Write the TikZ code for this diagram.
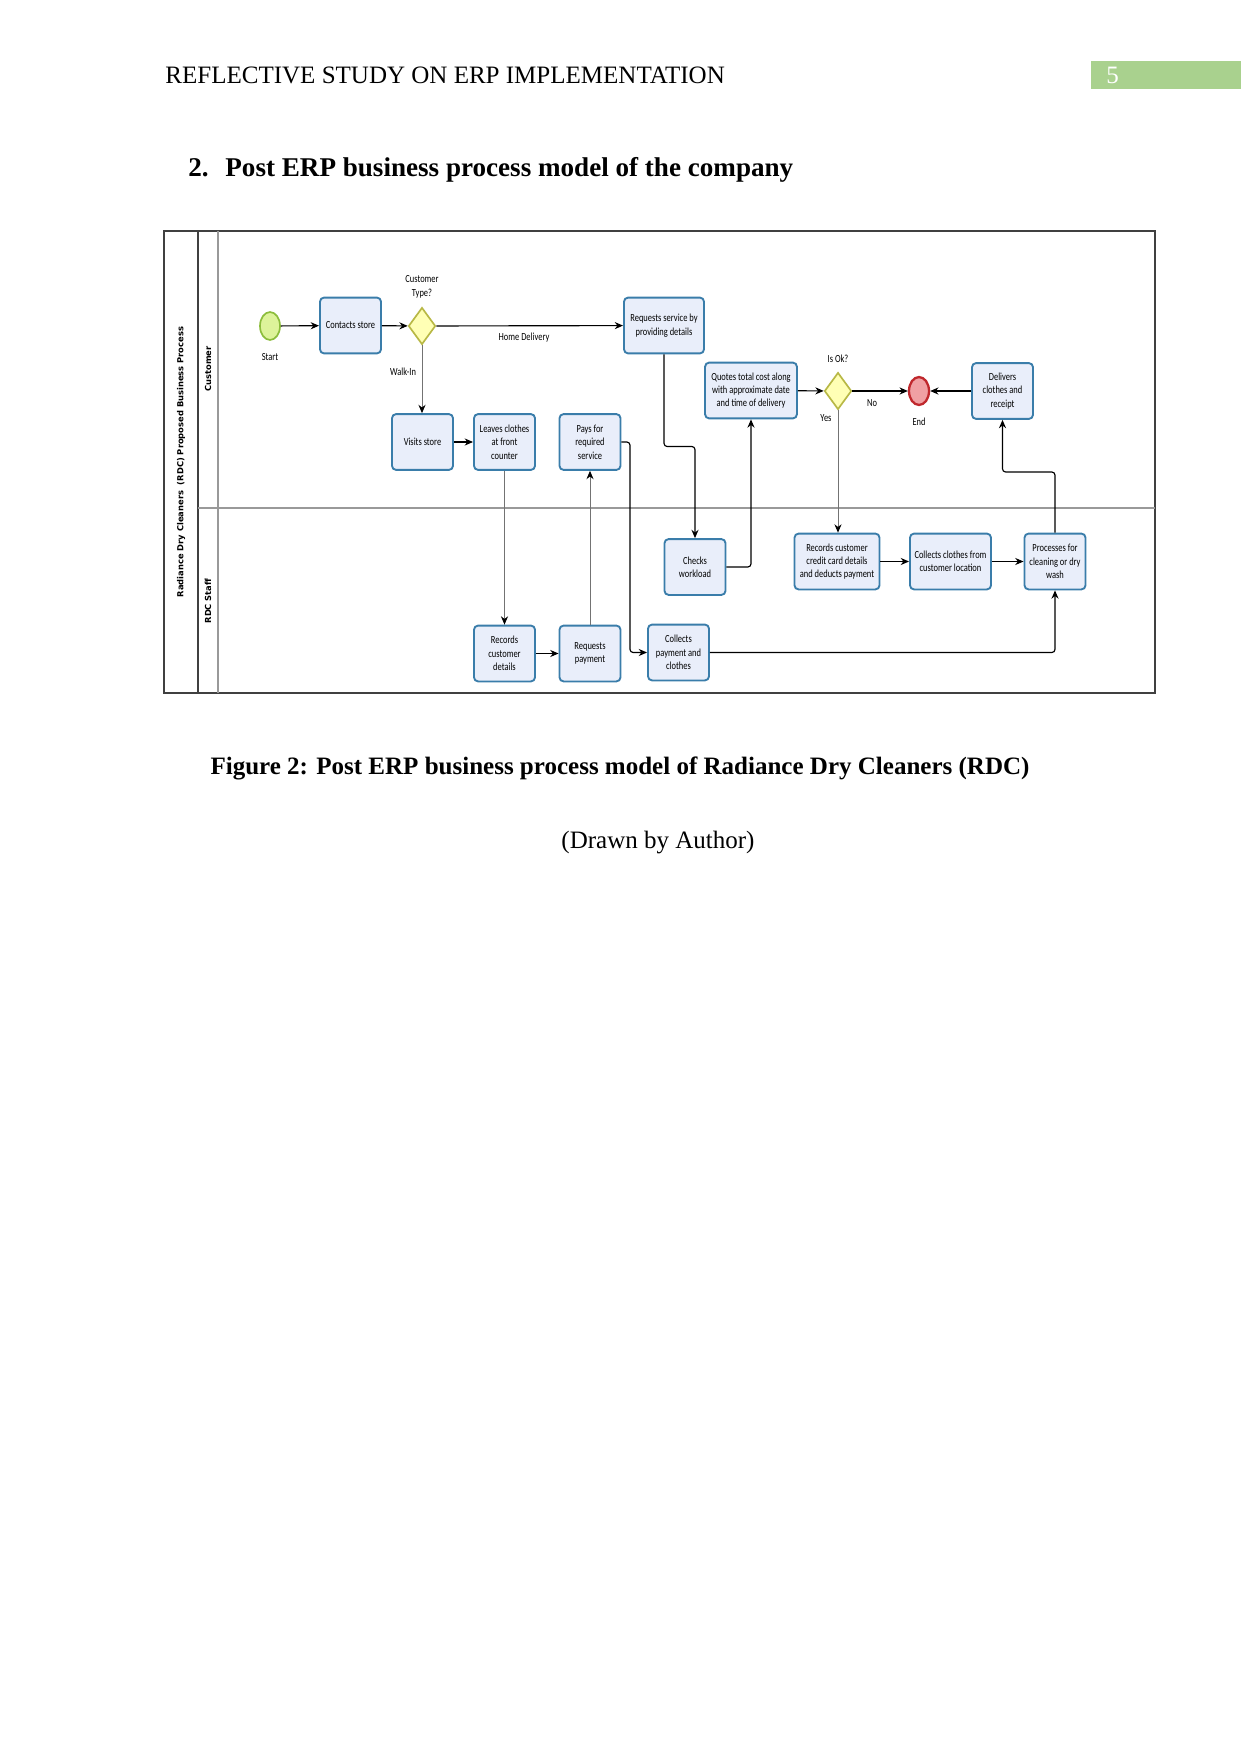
\documentclass[tikz,border=0pt]{standalone}
\usepackage{fontspec}
\setmainfont{Liberation Serif}
\newfontfamily\boxfont[FakeStretch=0.78]{Carlito}
\newfontfamily\lanefont{DejaVu Sans}
\usepackage{xcolor}
\usetikzlibrary{shapes.geometric, arrows.meta, positioning, calc}
\definecolor{taskfill}{HTML}{E9EEFA}
\definecolor{taskline}{HTML}{3A7DAA}
\definecolor{gatefill}{HTML}{FFFFB5}
\definecolor{gateline}{HTML}{B8B845}
\definecolor{startfill}{HTML}{DDF39A}
\definecolor{startline}{HTML}{8CBD3C}
\definecolor{endfill}{HTML}{F0A0A3}
\definecolor{endline}{HTML}{C0282D}
\definecolor{pagegreen}{HTML}{A9D18E}
\tikzset{
  task/.style={rectangle, rounded corners=2pt, draw=taskline, line width=0.9pt, fill=taskfill,
               align=center, minimum width=29.3pt, minimum height=26.8pt, inner sep=1pt,
               font=\boxfont\fontsize{5.2}{6.4}\selectfont},
  gateway/.style={diamond, draw=gateline, line width=0.8pt, fill=gatefill,
                  minimum width=13pt, minimum height=17.7pt, inner sep=0pt},
  startev/.style={ellipse, draw=startline, line width=0.8pt, fill=startfill,
                  minimum width=9.6pt, minimum height=13.4pt, inner sep=0pt},
  endev/.style={ellipse, draw=endline, line width=1.1pt, fill=endfill,
                minimum width=9.6pt, minimum height=13.4pt, inner sep=0pt},
  note/.style={font=\boxfont\fontsize{5.2}{6.4}\selectfont, align=center, inner sep=0pt},
  lanetxt/.style={font=\lanefont\bfseries\fontsize{4}{5}\selectfont, rotate=90, inner sep=0pt},
  pagetxt/.style={font=\fontsize{12}{14.4}\selectfont, inner sep=0pt},
  flow/.style={-{Stealth[length=4pt,width=3.4pt]}, line width=0.55pt, rounded corners=1.5pt},
  thinflow/.style={-{Stealth[length=4pt,width=3.4pt,color=black]}, draw=black!55, line width=0.4pt},
}
\begin{document}
\begin{tikzpicture}[x=0.4797pt, y=-0.4797pt]
  \path[fill=white, use as bounding box] (0,0) rectangle (1241,1754);

  % page text
  \node[pagetxt, anchor=base west] (hdr) at (165,84) {REFLECTIVE STUDY ON ERP IMPLEMENTATION};
  \node[fill=pagegreen, anchor=north west, minimum width=72pt, minimum height=13pt, inner sep=0pt] (pgbox) at (1091,61) {};
  \node[pagetxt, anchor=base west, text=white] (pgnum) at (1106,84) {5};
  \node[pagetxt, anchor=base west, font=\bfseries\fontsize{13}{15.6}\selectfont] (secnum) at (188,176) {2.};
  \node[pagetxt, anchor=base west, font=\bfseries\fontsize{13}{15.6}\selectfont] (sectitle) at (225,176) {Post ERP business process model of the company};

  % pool and lanes
  \draw[black!75, line width=0.6pt] (164,231) rectangle (1155,693);
  \draw[black!75, line width=0.6pt] (198,231) -- (198,693);
  \draw[black!40, line width=0.5pt] (218,231) -- (218,693);
  \draw[black!40, line width=0.5pt] (198,508) -- (1155,508);
  \node[lanetxt] (pool) at (181,462) {Radiance Dry Cleaners~~(RDC) Proposed Business Process};
  \node[lanetxt] (custlane) at (208,369) {Customer};
  \node[lanetxt] (stafflane) at (208,601) {RDC Staff};

  % customer lane
  \node[startev] (start) at (270,326) {};
  \node[note] (startlbl) at (270,357) {Start};
  \node[task] (contact) at (350.5,325.5) {Contacts store};
  \node[gateway] (ctype) at (422,326) {};
  \node[note] (ctypelbl) at (422,287) {Customer\\Type?};
  \node[task, minimum width=38.4pt] (reqserv) at (664,325.5) {Requests service by\\providing details};
  \node[task] (visit) at (422.5,442) {Visits store};
  \node[task] (leave) at (504.5,442) {Leaves clothes\\at front\\counter};
  \node[task] (pay) at (590,442) {Pays for\\required\\service};
  \node[task, minimum width=44.1pt] (quote) at (751,390.5) {Quotes total cost along\\with approximate date\\and time of delivery};
  \node[gateway] (isok) at (838,391) {};
  \node[note] (isoklbl) at (838,359) {Is Ok?};
  \node[endev] (end) at (919,391) {};
  \node[note] (endlbl) at (919,422) {End};
  \node[task] (deliver) at (1002.5,391) {Delivers\\clothes and\\receipt};

  % staff lane
  \node[task] (check) at (695,567) {Checks\\workload};
  \node[task, minimum width=40.8pt] (reccard) at (837,561.5) {Records customer\\credit card details\\and deducts payment};
  \node[task, minimum width=38.9pt] (collect) at (950.5,561.5) {Collects clothes from\\customer location};
  \node[task] (process) at (1055,561.5) {Processes for\\cleaning or dry\\wash};
  \node[task] (recdet) at (504.5,653.5) {Records\\customer\\details};
  \node[task] (reqpay) at (590,653.5) {Requests\\payment};
  \node[task] (colpay) at (678.5,652.5) {Collects\\payment and\\clothes};

  % edge labels
  \node[note] (homelbl) at (524,338) {Home Delivery};
  \node[note] (walklbl) at (403,372) {Walk-In};
  \node[note] (nolbl) at (872,403) {No};
  \node[note] (yeslbl) at (826,418) {Yes};

  \coordinate (bendA) at (664,446.5);
  \coordinate (bendB) at (630,442);
  \coordinate (bendC) at (1055,472);

  \draw[flow] (start) -- (contact);
  \draw[flow] (contact) -- (ctype);
  \draw[flow] (ctype) -- (reqserv);
  \draw[thinflow] (ctype.south) -- (ctype.south |- visit.north);
  \draw[flow] (visit) -- (leave);
  \draw[thinflow] (leave) -- (recdet);
  \draw[flow] (recdet) -- (reqpay);
  \draw[thinflow] (reqpay) -- (pay);
  \draw[flow] (pay.east) -- (bendB) |- (colpay.west);
  \draw[flow] (reqserv.south) -- (bendA) -| (check.north);
  \draw[flow] (check.east) -| (quote.south);
  \draw[flow] (quote) -- (isok);
  \draw[flow] (isok) -- (end);
  \draw[flow] (deliver) -- (end);
  \draw[thinflow] (isok.south) -- (isok.south |- reccard.north);
  \draw[flow] (reccard) -- (collect);
  \draw[flow] (collect) -- (process);
  \draw[flow] (process.north) -- (bendC) -| (deliver.south);
  \draw[flow] (colpay.east) -| (process.south);

  % caption
  \node[pagetxt, anchor=base, font=\bfseries\fontsize{12}{14.4}\selectfont] (caption) at (620,774) {Figure 2: Post ERP business process model of Radiance Dry Cleaners (RDC)};
  \node[pagetxt, anchor=base] (credit) at (658,848) {(Drawn by Author)};
\end{tikzpicture}
\end{document}
